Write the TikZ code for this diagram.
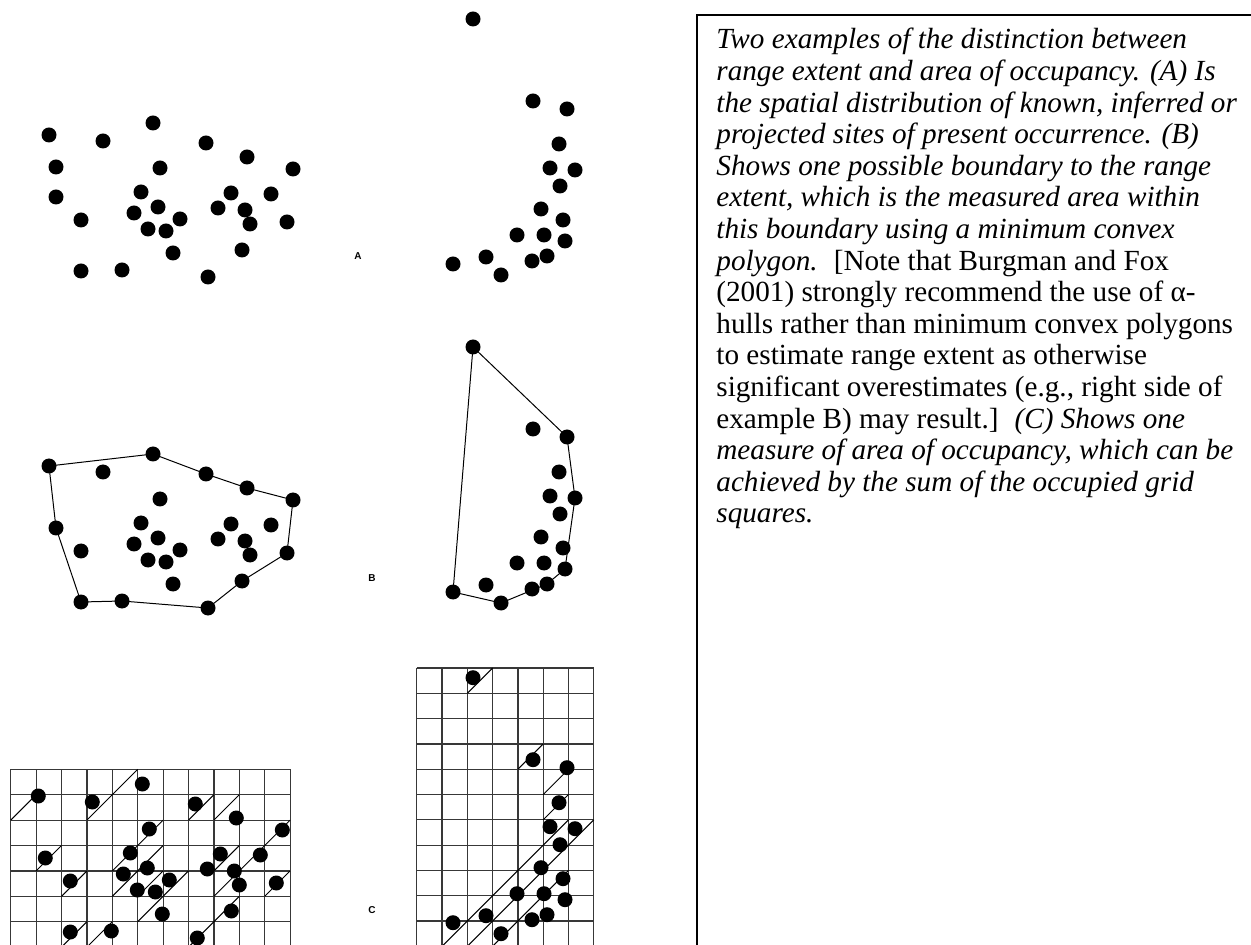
\documentclass[tikz,border=0pt]{standalone}
\usepackage{fontspec}
\setmainfont{Liberation Serif}
\newfontfamily\labelfont{Liberation Sans}
\begin{document}
\begin{tikzpicture}[x=0.5pt,y=-0.5pt,
  hull/.style={draw=black,line width=0.5pt,line join=round},
  gridline/.style={draw=black!78,line width=0.6pt},
  diag/.style={draw=black,line width=0.5pt},
  panellabel/.style={font=\labelfont\bfseries\fontsize{5}{6}\selectfont,inner sep=0pt},
  captxt/.style={font=\fontsize{14.6}{16}\selectfont,anchor=base west,inner sep=0pt},
  frame/.style={draw=black,line width=1pt}]
\useasboundingbox (0,0) rectangle (1251,945);
\def\ptsAL{49/135,103/141,153/123,206/143,247/157,293/169,56/167,160/168,56/197,141/192,231/193,271/194,81/220,134/213,158/207,180/219,148/229,166/231,218/208,245/210,250/224,287/222,173/253,242/250,81/271,122/270,208/277}
\def\ptsBL{49/135,103/141,153/123,206/143,247/157,293/169,160/168,56/197,141/192,231/193,271/194,81/220,134/213,158/207,180/219,148/229,166/231,218/208,245/210,250/224,287/222,173/253,242/250,81/271,122/270,208/277}
\def\ptsAR{473/19,533/101,567/109,559/144,550/168,575/170,560/186,541/209,563/220,517/235,544/235,565/241,486/257,547/256,532/261,453/264,501/275}
\begin{scope}
\clip (0,0) rectangle (1251,945);
% ---------- panel A ----------
\foreach \px/\py in \ptsAL {\fill (\px,\py) circle[radius=3.75pt];}
\foreach \px/\py in \ptsAR {\fill (\px,\py) circle[radius=3.75pt];}
\node[panellabel] (labA) at (358,256) {A};
% ---------- panel B ----------
\begin{scope}[shift={(0,331)}]
  \draw[hull] (49,135) -- (153,123) -- (206,143) -- (247,157) -- (293,169) -- (287,222) -- (242,250) -- (208,277) -- (122,270) -- (81,271) -- (56,197) -- cycle;
  \foreach \px/\py in \ptsBL {\fill (\px,\py) circle[radius=3.75pt];}
\end{scope}
\begin{scope}[shift={(0,328)}]
  \draw[hull] (473,19) -- (567,109) -- (575,170) -- (565,241) -- (547,256) -- (501,275) -- (453,264) -- cycle;
  \foreach \px/\py in \ptsAR {\fill (\px,\py) circle[radius=3.75pt];}
\end{scope}
\node[panellabel] (labB) at (372,578) {B};
% ---------- panel C left grid ----------
\foreach \c in {0,...,11} {\draw[gridline] ({10.7+25.4*\c},769.3) -- ({10.7+25.4*\c},960);}
\foreach \r in {0,...,7} {\draw[gridline] (10.7,{769.3+25.4*\r}) -- (290.1,{769.3+25.4*\r});}
\foreach \c/\r in {0/1,3/1,4/0,7/1,8/1,5/2,10/2,1/3,4/3,5/3,8/3,9/3,2/4,4/4,5/4,6/4,8/4,10/4,5/5,8/5,2/6,3/6,7/6}
  {\draw[diag] ({10.7+25.4*\c},{769.3+25.4*(\r+1)}) -- ({10.7+25.4*(\c+1)},{769.3+25.4*\r});}
\begin{scope}[shift={(-10.7,661)}]
  \foreach \px/\py in \ptsBL {\fill (\px,\py) circle[radius=3.75pt];}
\end{scope}
% ---------- panel C right grid ----------
\foreach \c in {0,...,7} {\draw[gridline] ({416.7+25.3*\c},668) -- ({416.7+25.3*\c},960);}
\foreach \r in {0,...,11} {\draw[gridline] (416.7,{668+25.3*\r}) -- (593.8,{668+25.3*\r});}
\foreach \c/\r in {2/0,4/3,5/4,5/5,1/10,2/9,3/8,4/7,5/6,2/10,3/9,4/8,5/7,6/6,3/10,4/9,5/8}
  {\draw[diag] ({416.7+25.3*\c},{668+25.3*(\r+1)}) -- ({416.7+25.3*(\c+1)},{668+25.3*\r});}
\begin{scope}[shift={(0,658.7)}]
  \foreach \px/\py in \ptsAR {\fill (\px,\py) circle[radius=3.75pt];}
\end{scope}
\node[panellabel] (labC) at (372,910) {C};
% ---------- caption box ----------
\draw[frame] (1262,15) -- (696.5,15) -- (696.5,960);
\end{scope}
\node[captxt] (t1) at (716,49) {\textit{Two examples of the distinction between}};
\node[captxt] (t2) at (716,80.6) {\textit{range extent and area of occupancy. (A) Is}};
\node[captxt] (t3) at (716,112.2) {\textit{the spatial distribution of known, inferred or}};
\node[captxt] (t4) at (716,143.8) {\textit{projected sites of present occurrence. (B)}};
\node[captxt] (t5) at (716,175.4) {\textit{Shows one possible boundary to the range}};
\node[captxt] (t6) at (716,207) {\textit{extent, which is the measured area within}};
\node[captxt] (t7) at (716,238.6) {\textit{this boundary using a minimum convex}};
\node[captxt] (t8) at (716,270.2) {\textit{polygon.}\hspace{0.55em}[Note that Burgman and Fox};
\node[captxt] (t9) at (716,301.8) {(2001) strongly recommend the use of α-};
\node[captxt] (t10) at (716,333.4) {hulls rather than minimum convex polygons};
\node[captxt] (t11) at (716,365) {to estimate range extent as otherwise};
\node[captxt] (t12) at (716,396.6) {significant overestimates (e.g., right side of};
\node[captxt] (t13) at (716,428.2) {example B) may result.]\hspace{0.55em}\textit{(C) Shows one}};
\node[captxt] (t14) at (716,459.8) {\textit{measure of area of occupancy, which can be}};
\node[captxt] (t15) at (716,491.4) {\textit{achieved by the sum of the occupied grid}};
\node[captxt] (t16) at (716,523) {\textit{squares.}};
\end{tikzpicture}
\end{document}
